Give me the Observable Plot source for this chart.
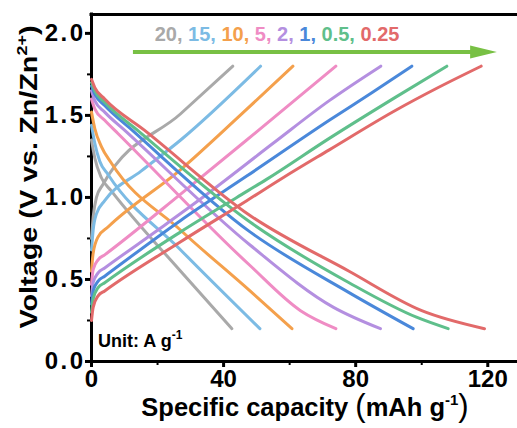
<!DOCTYPE html>
<html><head><meta charset="utf-8">
<script src="https://cdn.jsdelivr.net/npm/d3@7"></script>
<script src="https://cdn.jsdelivr.net/npm/@observablehq/plot@0.6"></script>
<style>body{margin:0;background:#fff}</style>
</head><body><div id="chart"></div>
<script>
// Current densities (A g-1) and their colours
const rates = ["20","15","10","5","2","1","0.5","0.25"];
const colors = ["#a9a9a9","#7cbbe4","#f4a04c","#ef8cc4","#b48fe0","#4a88da","#5fbf8b","#e26a6a"];

// Charge curves [capacity mAh g-1, voltage V]
const c20  = [[0,0.75],[0.5,0.88],[1.5,1.0],[3.5,1.08],[27,1.51],[42.8,1.8]];
const c15  = [[0,0.68],[0.5,0.8],[1.5,0.9],[4,0.98],[15,1.16],[27,1.35],[51.2,1.8]];
const c10  = [[0,0.55],[0.5,0.66],[2,0.76],[5,0.82],[27,1.17],[45,1.5],[61,1.8]];
const c5   = [[0,0.47],[0.5,0.56],[2,0.62],[4,0.65],[27,1.02],[50,1.4],[74,1.8]];
const c2   = [[0,0.4],[0.5,0.48],[2,0.54],[4,0.57],[20,0.8],[33,0.99],[55,1.33],[72,1.59],[87.6,1.8]];
const c1   = [[0,0.35],[0.5,0.43],[2,0.49],[4,0.52],[27,0.86],[47,1.13],[72,1.47],[85,1.64],[97,1.8]];
const c05  = [[0,0.3],[0.5,0.38],[2,0.45],[4,0.48],[27,0.79],[44,1.0],[53,1.11],[72,1.36],[92,1.61],[107.6,1.8]];
const c025 = [[0,0.25],[0.5,0.33],[2,0.4],[4,0.43],[27,0.73],[47,0.98],[58,1.12],[72,1.29],[92,1.53],[105,1.67],[118,1.8]];

// Discharge curves [capacity mAh g-1, voltage V]
const d20  = [[0,1.35],[1,1.24],[3,1.12],[6,1.04],[27,0.55],[42.5,0.2]];
const d15  = [[0,1.44],[1,1.33],[2.5,1.22],[5,1.14],[27,0.68],[51,0.2]];
const d10  = [[0,1.52],[1,1.42],[3,1.31],[6,1.21],[27,0.8],[48,0.43],[60.7,0.2]];
const d5   = [[0,1.6],[1,1.54],[4,1.47],[8,1.39],[48,0.585],[63.3,0.31],[74,0.2]];
const d2   = [[0,1.65],[1,1.59],[4,1.52],[10,1.41],[48,0.71],[73.3,0.33],[87.5,0.2]];
const d1   = [[0,1.68],[1,1.63],[4,1.56],[12.3,1.41],[48,0.79],[78,0.42],[97.4,0.2]];
const d05  = [[0,1.7],[1,1.65],[4,1.58],[14.5,1.4],[48,0.85],[78,0.48],[98.4,0.27],[108,0.2]];
const d025 = [[0,1.72],[1,1.67],[4,1.6],[16,1.41],[48,0.89],[78,0.55],[100,0.31],[119,0.2]];

const chargeCurves = [c20,c15,c10,c5,c2,c1,c05,c025];
const dischargeCurves = [d20,d15,d10,d5,d2,d1,d05,d025];

// Axes
const xDomain = [0, 129];
const yDomain = [0, 2.115];
const xTicks = [0, 40, 80, 120];
const xMinor = [20, 60, 100];
const yTicks = [0, 0.5, 1.0, 1.5, 2.0];
const yMinor = [0.25, 0.75, 1.25, 1.75];

// Annotation anchors (data units)
const labelPos = [19.3, 1.95];
const arrowPos = [12.7, 114.8, 122.9, 1.884];

const rows = [];
rates.forEach((r, i) => {
  chargeCurves[i].forEach(([cap, v]) => rows.push({rate: r, key: r + "c", cap, v}));
  dischargeCurves[i].forEach(([cap, v]) => rows.push({rate: r, key: r + "d", cap, v}));
});

const plot = Plot.plot({
  width: 517, height: 428,
  marginLeft: 91, marginRight: 0, marginTop: 14, marginBottom: 67,
  style: "font-family: Arial, 'Liberation Sans', sans-serif; font-size: 24px; font-weight: bold; background: #fff; color: #000;",
  x: {domain: xDomain},
  y: {domain: yDomain},
  color: {domain: rates, range: colors},
  marks: [
    Plot.ruleY([yDomain[1]], {strokeWidth: 3, strokeLinecap: "square"}),
    Plot.ruleX([0], {strokeWidth: 3, strokeLinecap: "square"}),
    Plot.ruleY([0], {strokeWidth: 3, strokeLinecap: "square"}),
    Plot.axisX(xTicks, {tickSize: 6, tickPadding: 2, strokeWidth: 3, label: null}),
    Plot.axisX(xMinor, {tickSize: 4, strokeWidth: 2, tickFormat: () => "", label: null}),
    Plot.axisY(yTicks, {tickSize: 6, tickPadding: 0, strokeWidth: 3, tickFormat: d => d.toFixed(1), label: null}),
    Plot.axisY(yMinor, {tickSize: 4, strokeWidth: 2, tickFormat: () => "", label: null}),
    Plot.line(rows, {x: "cap", y: "v", z: "key", stroke: "rate", strokeWidth: 3, curve: "monotone-x", strokeLinecap: "round", strokeLinejoin: "round"})
  ]
});
document.getElementById("chart").appendChild(plot);

const svg = d3.select(plot);
// widen the y tick labels a little, as in the reference
svg.selectAll('g[aria-label="y-axis tick label"] text').style("letter-spacing", "2.5px");

const sx = plot.scale("x"), sy = plot.scale("y");
const g = svg.append("g").attr("text-anchor", "start");

// rate labels
const t = g.append("text").attr("x", sx.apply(labelPos[0])).attr("y", sy.apply(labelPos[1]))
  .attr("font-size", 20).attr("font-weight", "bold");
rates.forEach((r, i) => t.append("tspan").attr("fill", colors[i]).text(r + (i < rates.length - 1 ? ", " : "")));

// arrow
const ay = sy.apply(arrowPos[3]);
g.append("line").attr("x1", sx.apply(arrowPos[0])).attr("x2", sx.apply(arrowPos[1]) + 2)
  .attr("y1", ay).attr("y2", ay).attr("stroke", "#78c044").attr("stroke-width", 4);
const hx = sx.apply(arrowPos[1]), tx = sx.apply(arrowPos[2]);
g.append("path").attr("d", `M${hx},${ay - 6.5}L${tx},${ay}L${hx},${ay + 6.5}Z`).attr("fill", "#78c044");

// Unit label
const u = g.append("text").attr("x", 98).attr("y", 347).attr("font-size", 18).attr("font-weight", "bold");
u.append("tspan").text("Unit: A g");
u.append("tspan").attr("font-size", 12).attr("dy", -8).text("-1");

// x title
const xt = g.append("text").attr("x", 305).attr("y", 416).attr("text-anchor", "middle").attr("font-size", 25.5).attr("font-weight", "bold");
xt.append("tspan").text("Specific capacity ");
xt.append("tspan").attr("font-size", 31).attr("font-weight", "normal").text("(");
xt.append("tspan").text("mAh g");
xt.append("tspan").attr("font-size", 15).attr("dy", -11).text("-1");
xt.append("tspan").attr("font-size", 31).attr("font-weight", "normal").attr("dy", 11).text(")");

// y title
const yt = g.append("text").attr("transform", "translate(37,177) rotate(-90) scale(1.2,1)").attr("text-anchor", "middle").attr("font-size", 24).attr("font-weight", "bold");
yt.append("tspan").text("Voltage (V vs. Zn/Zn");
yt.append("tspan").attr("font-size", 15).attr("dy", -10).text("2+");
yt.append("tspan").attr("dy", 10).text(")");
</script>
</body></html>
